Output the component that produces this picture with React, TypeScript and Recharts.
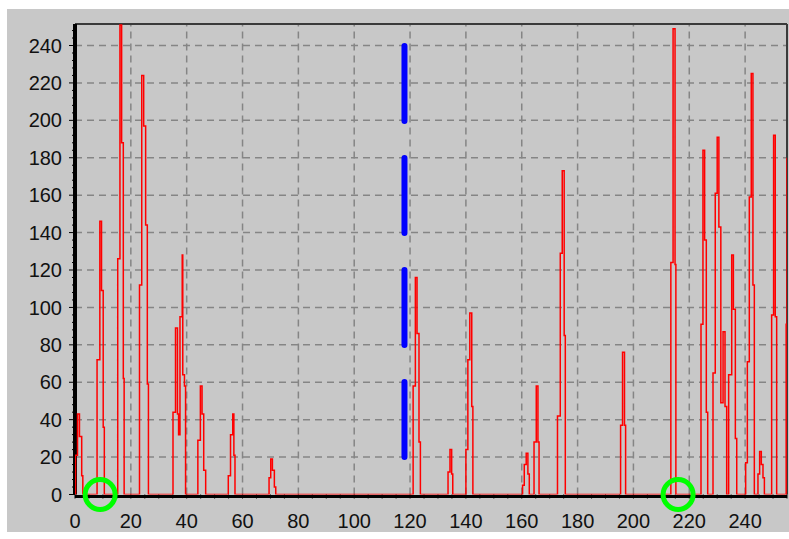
import { LineChart, Line, XAxis, YAxis, ReferenceLine, ReferenceDot } from 'recharts';

// red histogram trace (stepAfter: each x is where the level changes)
const redX = [
  0, 0.2, 0.9, 1.6, 2.4, 2.8,
  7.9, 8.9, 9.5, 10.1, 10.5,
  15.3, 16.1, 16.7, 17.3, 17.6,
  23.1, 23.9, 24.6, 25.3, 25.9, 26.3,
  35.1, 36, 36.7, 37.1, 37.6, 38.4, 38.6, 39.2, 39.6,
  44, 44.9, 45.5, 46.1, 46.8,
  54.9, 55.7, 56.5, 56.9, 57.3,
  69.5, 70.1, 70.7, 71.4, 71.9,
  121.1, 121.9, 122.5, 123.2, 123.7,
  133.6, 134.3, 134.9, 135.3,
  140, 140.7, 141.4, 142.1, 142.5,
  160.3, 160.9, 161.6, 162.2, 162.7,
  164.4, 165.2, 165.8, 166.2,
  172.8, 173.8, 174.5, 175.2, 175.6,
  195.4, 196.1, 196.8, 197.2,
  213.4, 214.2, 214.9, 215.2,
  224.2, 224.9, 225.5, 226.1, 226.6,
  228.5, 229.3, 230, 230.6, 231.3, 232.1, 232.8, 233.4,
  234.1, 235.2, 235.8, 236.5, 237,
  240.2, 240.8, 241.5, 242.2, 242.8, 243.3,
  244.6, 245.2, 245.8, 246.4, 246.9,
  249.5, 250.2, 250.8, 251.3,
  254.7, 255,
];

const redY = [
  0, 21, 43, 31, 10, 0,
  72, 146, 109, 36, 0,
  126, 251, 188, 62, 0,
  112, 224, 197, 144, 59, 0,
  44, 89, 43, 32, 95, 128, 64, 58, 0,
  29, 58, 43, 13, 0,
  10, 32, 43, 21, 0,
  9, 19, 13, 4, 0,
  58, 116, 86, 28, 0,
  12, 24, 11, 0,
  24, 72, 97, 47, 0,
  5, 16, 22, 11, 0,
  28, 58, 28, 0,
  42, 129, 173, 85, 0,
  37, 76, 37, 0,
  124, 249, 123, 0,
  91, 184, 136, 44, 0,
  65, 161, 191, 143, 49, 87, 47, 0,
  64, 128, 99, 30, 0,
  17, 71, 159, 225, 112, 0,
  11, 23, 16, 9, 0,
  96, 192, 95, 0,
  91, 180,
];

// blue marker line
const blueX = [118, 118];
const blueY = [20, 240];

// green rings on the baseline
const ringX = [9, 216];

const xLabels = [0, 20, 40, 60, 80, 100, 120, 140, 160, 180, 200, 220, 240];
const yLabels = [0, 20, 40, 60, 80, 100, 120, 140, 160, 180, 200, 220, 240];
const xMinor = Array.from({ length: 52 }, (_, i) => i * 5);
const yMinor = Array.from({ length: 63 }, (_, i) => i * 4);

const redData = redX.map((x, i) => ({ x, y: redY[i] }));
const blueData = blueX.map((x, i) => ({ x, y: blueY[i] }));

const FONT = '"Liberation Sans", Arial, sans-serif';

const YTick = (props: any) => {
  const { x, y, payload } = props;
  const v = payload.value;
  const major = v % 20 === 0;
  const ax = x + 13;
  return (
    <g>
      <line x1={ax - (major ? 6 : 3)} x2={ax} y1={y} y2={y} stroke="#000" strokeWidth={1} />
      {major && (
        <text x={x} y={y} dy="0.355em" textAnchor="end" fill="#111" fontSize={20} fontFamily={FONT}>
          {v}
        </text>
      )}
    </g>
  );
};

export default function App() {
  return (
    <div style={{ position: 'relative', width: 789, height: 539, background: '#fff', overflow: 'hidden' }}>
      <style>{'body{margin:0;overflow:hidden}'}</style>
      <div style={{ position: 'absolute', left: 7, top: 9, width: 782, height: 523, background: '#c8c8c8' }} />
      <div style={{ position: 'absolute', left: 0, top: 0 }}>
        <LineChart width={789} height={539} margin={{ top: 24, right: 2, bottom: 14.5, left: 0 }}>
          {xLabels.slice(1).map((v) => (
            <ReferenceLine key={'gx' + v} x={v} stroke="#858585" strokeWidth={1.5} strokeDasharray="7 5" zIndex={-100} />
          ))}
          {yLabels.slice(1).map((v) => (
            <ReferenceLine key={'gy' + v} y={v} stroke="#858585" strokeWidth={1.5} strokeDasharray="7 5" zIndex={-100} />
          ))}
          <XAxis
            type="number"
            dataKey="x"
            domain={[0, 255]}
            ticks={xMinor}
            interval={0}
            allowDataOverflow
            height={30}
            tickSize={4}
            tickMargin={15}
            tickFormatter={(v: number) => (xLabels.includes(v) ? String(v) : '')}
            axisLine={false}
            tickLine={{ stroke: '#000' }}
            tick={{ fill: '#111', fontSize: 20, fontFamily: FONT }}
          />
          <YAxis
            type="number"
            dataKey="y"
            domain={[0, 251.5]}
            ticks={yMinor}
            interval={0}
            allowDataOverflow
            width={75}
            tickSize={5}
            tickMargin={8}
            tickLine={{ stroke: 'none' }}
            axisLine={{ stroke: '#000', strokeWidth: 4 }}
            tick={(p: any) => <YTick {...p} />}
          />
          {/* thick black base line sits just under the red zero level */}
          <ReferenceLine y={-1.1} ifOverflow="visible" stroke="#000" strokeWidth={3} />
          <ReferenceLine y={251.5} stroke="#3a3a3a" strokeWidth={2} />
          <ReferenceLine x={255} stroke="#3a3a3a" strokeWidth={2} />
          <Line
            data={redData}
            dataKey="y"
            type="stepAfter"
            stroke="#ff0000"
            strokeWidth={1.5}
            dot={false}
            activeDot={false}
            isAnimationActive={false}
            zIndex={600}
          />
          <Line
            data={blueData}
            dataKey="y"
            type="linear"
            stroke="#0000ff"
            strokeWidth={6}
            strokeLinecap="round"
            strokeDasharray="75 37"
            dot={false}
            activeDot={false}
            isAnimationActive={false}
            zIndex={650}
          />
          {ringX.map((x) => (
            <ReferenceDot key={'r' + x} x={x} y={0} r={15} fill="none" stroke="#00ff00" strokeWidth={5} zIndex={700} />
          ))}
        </LineChart>
      </div>
    </div>
  );
}
